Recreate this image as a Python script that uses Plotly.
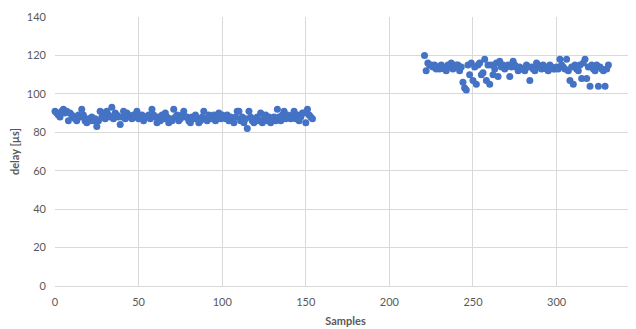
import plotly.graph_objects as go

# Group 1: samples 0..154
samples_a = list(range(0, 155))
delay_a = [
    91, 90, 89, 88, 91, 92, 90, 91, 86, 90,
    89, 88, 87, 86, 89, 88, 92, 89, 86, 85,
    87, 86, 88, 86, 87, 83, 86, 91, 88, 90,
    87, 91, 89, 88, 93, 87, 90, 89, 88, 84,
    88, 91, 87, 90, 89, 88, 87, 89, 88, 91,
    87, 88, 89, 86, 88, 88, 89, 87, 92, 89,
    88, 85, 88, 86, 89, 87, 90, 88, 85, 87,
    86, 92, 88, 89, 86, 87, 89, 91, 88, 88,
    86, 85, 88, 87, 89, 87, 85, 86, 88, 91,
    87, 86, 89, 88, 87, 89, 86, 88, 90, 87,
    89, 88, 87, 89, 86, 88, 87, 85, 88, 91,
    91, 86, 88, 85, 87, 82, 91, 88, 86, 85,
    87, 88, 86, 90, 85, 87, 89, 86, 88, 85,
    87, 88, 86, 92, 88, 86, 89, 91, 87, 89,
    88, 87, 89, 91, 87, 89, 86, 88, 90, 90,
    85, 92, 89, 88, 87,
]

# Group 2: samples 221..331
samples_b = list(range(221, 332))
delay_b = [
    120, 112, 116, 115, 115, 114, 115, 113, 114, 113,
    115, 114, 113, 112, 115, 114, 116, 113, 114, 115,
    115, 112, 114, 106, 103, 102, 115, 110, 116, 107,
    114, 105, 115, 116, 110, 111, 118, 107, 115, 105,
    115, 110, 113, 116, 109, 117, 114, 115, 113, 114,
    115, 109, 114, 117, 115, 114, 112, 114, 113, 113,
    112, 115, 114, 107, 114, 113, 112, 116, 115, 114,
    113, 115, 114, 113, 112, 115, 114, 113, 113, 114,
    113, 118, 115, 114, 113, 118, 112, 107, 114, 105,
    115, 113, 112, 115, 108, 116, 118, 108, 114, 104,
    115, 113, 112, 115, 104, 114, 113, 112, 104, 113,
    115,
]

x_ticks = [0, 50, 100, 150, 200, 250, 300]
y_ticks = [0, 20, 40, 60, 80, 100, 120, 140]

blue = "#4472C4"
grid = "#d9d9d9"
txt = "#595959"
font_family = "Lato, 'Open Sans', sans-serif"

fig = go.Figure()
fig.add_trace(go.Scatter(x=samples_a + samples_b, y=delay_a + delay_b,
                         mode="markers",
                         marker=dict(size=7, color=blue),
                         showlegend=False, cliponaxis=False))

x_max = 347.5
fig.update_layout(
    width=628, height=321,
    margin=dict(l=47, r=0, t=9, b=43, autoexpand=False),
    paper_bgcolor="white", plot_bgcolor="white",
    font=dict(family=font_family, size=11, color=txt),
    xaxis=dict(range=[0, x_max], tickvals=x_ticks, showgrid=True,
               gridcolor=grid, gridwidth=1, zeroline=False,
               showline=True, linecolor=grid, linewidth=1,
               ticks="", ticklabelstandoff=6, automargin=False,
               tickfont=dict(size=11, color=txt),
               title=dict(text="<b>Samples</b>", font=dict(size=11, color=txt),
                          standoff=10)),
    yaxis=dict(range=[0, 140], tickvals=y_ticks, showgrid=True,
               gridcolor=grid, gridwidth=1, zeroline=False,
               ticks="", ticklabelstandoff=8, automargin=False,
               tickfont=dict(size=11, color=txt),
               title=dict(text="<b>delay [µs]</b>", font=dict(size=11, color=txt),
                          standoff=8)),
)
fig.add_annotation(x=350 / x_max, xref="paper", y=0, yref="paper",
                   text="350", showarrow=False, yanchor="top", xanchor="center",
                   yshift=-9, font=dict(size=11, color=txt, family=font_family))

fig.write_html("out.html")
